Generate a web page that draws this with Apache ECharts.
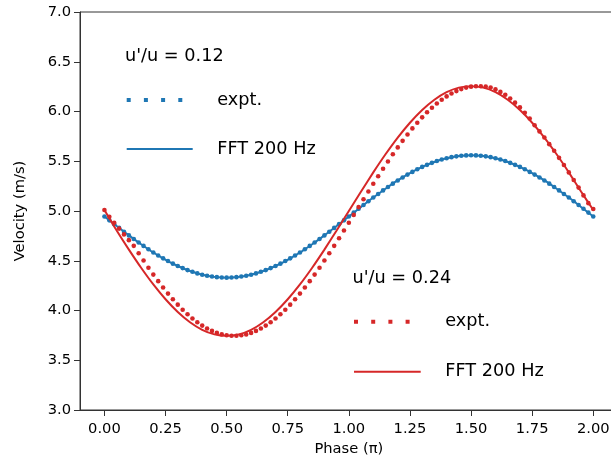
<!DOCTYPE html>
<html>
<head>
<meta charset="utf-8">
<script src="https://cdn.jsdelivr.net/npm/echarts@6/dist/echarts.min.js"></script>
<style>html,body{margin:0;padding:0;background:#fff}#c{width:611px;height:462px}</style>
</head>
<body>
<div id="c"></div>
<script>
const xTicks = [0.00,0.25,0.50,0.75,1.00,1.25,1.50,1.75,2.00];
const yTicks = [3.0,3.5,4.0,4.5,5.0,5.5,6.0,6.5,7.0];

const phaseExpt = [0.00,0.02,0.04,0.06,0.08,0.10,0.12,0.14,0.16,0.18,0.20,0.22,0.24,0.26,0.28,0.30,0.32,0.34,0.36,0.38,0.40,0.42,0.44,0.46,0.48,0.50,0.52,0.54,0.56,0.58,0.60,0.62,0.64,0.66,0.68,0.70,0.72,0.74,0.76,0.78,0.80,0.82,0.84,0.86,0.88,0.90,0.92,0.94,0.96,0.98,1.00,1.02,1.04,1.06,1.08,1.10,1.12,1.14,1.16,1.18,1.20,1.22,1.24,1.26,1.28,1.30,1.32,1.34,1.36,1.38,1.40,1.42,1.44,1.46,1.48,1.50,1.52,1.54,1.56,1.58,1.60,1.62,1.64,1.66,1.68,1.70,1.72,1.74,1.76,1.78,1.80,1.82,1.84,1.86,1.88,1.90,1.92,1.94,1.96,1.98,2.00];

const blueExpt = [4.945,4.906,4.868,4.830,4.792,4.755,4.719,4.683,4.649,4.615,4.583,4.553,4.524,4.497,4.471,4.447,4.426,4.406,4.389,4.373,4.360,4.349,4.341,4.335,4.331,4.330,
4.331,4.335,4.341,4.349,4.360,4.373,4.389,4.406,4.426,4.447,4.471,4.497,4.524,4.553,4.583,4.615,4.649,4.683,4.719,4.755,4.792,4.830,4.868,4.906,4.945,
4.984,5.022,5.060,5.098,5.135,5.171,5.207,5.241,5.275,5.307,5.337,5.366,5.393,5.419,5.443,5.464,5.484,5.502,5.517,5.530,5.541,5.549,5.555,5.559,5.560,
5.559,5.555,5.549,5.541,5.530,5.517,5.502,5.484,5.464,5.443,5.419,5.393,5.366,5.337,5.307,5.275,5.241,5.207,5.171,5.135,5.098,5.060,5.022,4.984,4.945];

const redExpt = [5.010,4.941,4.882,4.823,4.765,4.707,4.650,4.575,4.502,4.430,4.361,4.295,4.231,4.170,4.113,4.059,4.008,3.962,3.920,3.882,3.848,3.819,3.795,3.775,3.760,3.751,
3.746,3.746,3.751,3.760,3.775,3.795,3.819,3.848,3.882,3.920,3.962,4.008,4.059,4.113,4.170,4.231,4.295,4.361,4.430,4.502,4.575,4.650,4.726,4.804,4.882,
4.961,5.039,5.118,5.196,5.274,5.350,5.425,5.498,5.570,5.639,5.705,5.769,5.830,5.887,5.941,5.992,6.038,6.080,6.118,6.152,6.181,6.205,6.225,6.240,6.250,
6.254,6.254,6.250,6.240,6.222,6.197,6.168,6.131,6.089,6.041,5.988,5.930,5.862,5.800,5.738,5.672,5.605,5.534,5.462,5.388,5.312,5.235,5.157,5.079,5.020];

const phaseFFT = [0.00,0.05,0.10,0.15,0.20,0.25,0.30,0.35,0.40,0.45,0.50,0.55,0.60,0.65,0.70,0.75,0.80,0.85,0.90,0.95,1.00,1.05,1.10,1.15,1.20,1.25,1.30,1.35,1.40,1.45,1.50,1.55,1.60,1.65,1.70,1.75,1.80,1.85,1.90,1.95,2.00];
const blueFFT = [4.945,4.849,4.755,4.666,4.583,4.510,4.447,4.397,4.360,4.338,4.330,4.338,4.360,4.397,4.447,4.510,4.583,4.666,4.755,4.849,4.945,5.041,5.135,5.224,5.307,5.380,5.443,5.493,5.530,5.552,5.560,5.552,5.530,5.493,5.443,5.380,5.307,5.224,5.135,5.041,4.945];
const redFFT = [5.010,4.804,4.612,4.430,4.262,4.113,3.985,3.882,3.806,3.760,3.745,3.760,3.806,3.882,3.985,4.113,4.262,4.430,4.612,4.804,5.000,5.196,5.388,5.570,5.738,5.887,6.015,6.118,6.194,6.240,6.255,6.240,6.194,6.118,6.015,5.887,5.738,5.570,5.388,5.196,5.010];

const groupTitles = ["u'/u = 0.12", "u'/u = 0.24"];
const entryLabels = ["expt.", "FFT 200 Hz"];

const BLUE = '#1f77b4', RED = '#d62728';
const FONT = 'DejaVu Sans';
const AX = '#333333';
const zip = (xs, ys) => xs.map((x, i) => [x, ys[i]]);
const dotsIcon = 'path://M0,0h4v4h-4zM17.2,0h4v4h-4zM34.4,0h4v4h-4zM51.6,0h4v4h-4z';

function legendRow(name, icon, left, top, w, h, padLeft, label) {
  return {
    data: [{ name: name, icon: icon }],
    left: left, top: top, padding: 0, itemWidth: w, itemHeight: h,
    selectedMode: false, formatter: label,
    textStyle: { fontFamily: FONT, fontSize: 17.7, color: '#000', lineHeight: 18, padding: [0, 0, 0, padLeft] }
  };
}

const chart = echarts.init(document.getElementById('c'), null, { renderer: 'canvas' });
chart.setOption({
  animation: false,
  backgroundColor: '#fff',
  textStyle: { fontFamily: FONT },
  grid: { left: 80, right: -6.7, top: 12, bottom: 52, containLabel: false, outerBoundsMode: 'none', show: true, borderColor: AX, borderWidth: 1, backgroundColor: 'transparent' },
  title: [
    { text: groupTitles[0], left: 125, top: 47.7, padding: 0, textStyle: { fontFamily: FONT, fontSize: 17.7, fontWeight: 'normal', color: '#000', lineHeight: 18 } },
    { text: groupTitles[1], left: 352.5, top: 269.3, padding: 0, textStyle: { fontFamily: FONT, fontSize: 17.7, fontWeight: 'normal', color: '#000', lineHeight: 18 } }
  ],
  legend: [
    legendRow('expt. 0.12', dotsIcon, 126.7, 91, 55.6, 4, 30, entryLabels[0]),
    legendRow('FFT 0.12', 'rect', 126.7, 140, 66, 2, 19.6, entryLabels[1]),
    legendRow('expt. 0.24', dotsIcon, 354, 312.7, 55.6, 4, 30.7, entryLabels[0]),
    legendRow('FFT 0.24', 'rect', 354, 362.7, 66.7, 2, 19.6, entryLabels[1])
  ],
  xAxis: {
    type: 'value', min: -0.1, max: 2.1,
    name: 'Phase (π)', nameLocation: 'middle', nameGap: 32,
    nameTextStyle: { fontFamily: FONT, fontSize: 14.7, color: '#000' },
    axisLine: { show: true, onZero: false, lineStyle: { color: AX, width: 1 } },
    axisTick: { show: true, length: 6, inside: false, lineStyle: { color: AX, width: 1 }, customValues: xTicks },
    axisLabel: { margin: 12, fontFamily: FONT, fontSize: 14.7, color: '#000', customValues: xTicks, formatter: v => v.toFixed(2) },
    splitLine: { show: false }
  },
  yAxis: {
    type: 'value', min: 3, max: 7, interval: 0.5,
    name: 'Velocity (m/s)', nameLocation: 'middle', nameGap: 52,
    nameTextStyle: { fontFamily: FONT, fontSize: 14.7, color: '#000' },
    axisLine: { show: true, onZero: false, lineStyle: { color: AX, width: 1 } },
    axisTick: { show: true, length: 6, lineStyle: { color: AX, width: 1 } },
    axisLabel: { margin: 9, fontFamily: FONT, fontSize: 14.7, color: '#000', formatter: v => v.toFixed(1) },
    splitLine: { show: false }
  },
  series: [
    { name: 'expt. 0.12', type: 'scatter', data: zip(phaseExpt, blueExpt), symbol: 'circle', symbolSize: 4.6, itemStyle: { color: BLUE, opacity: 1 }, z: 2 },
    { name: 'FFT 0.12', type: 'line', data: zip(phaseFFT, blueFFT), showSymbol: false, symbol: 'none', smooth: 0.2, lineStyle: { color: BLUE, width: 2 }, itemStyle: { color: BLUE }, z: 3 },
    { name: 'expt. 0.24', type: 'scatter', data: zip(phaseExpt, redExpt), symbol: 'circle', symbolSize: 4.6, itemStyle: { color: RED, opacity: 1 }, z: 4 },
    { name: 'FFT 0.24', type: 'line', data: zip(phaseFFT, redFFT), showSymbol: false, symbol: 'none', smooth: 0.2, lineStyle: { color: RED, width: 2 }, itemStyle: { color: RED }, z: 5 }
  ]
});
</script>
</body>
</html>
